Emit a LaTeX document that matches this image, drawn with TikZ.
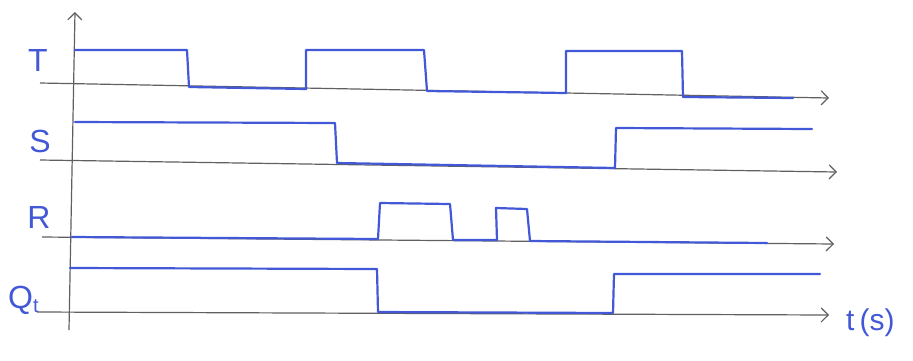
\documentclass[tikz,border=0pt]{standalone}
\usepackage{fontspec}
\setmainfont{Liberation Sans}
\usetikzlibrary{arrows.meta}
\definecolor{pen}{RGB}{66,88,214}
\definecolor{axisgray}{RGB}{95,95,100}
\tikzset{
  sig/.style={pen, line width=2.2pt, line join=round, line cap=round},
  ax/.style={axisgray, line width=1.2pt, -{Straight Barb[length=7pt,width=14pt]}},
  lab/.style={pen, font=\fontsize{32}{32}\selectfont, inner sep=0pt}
}
\begin{document}
\begin{tikzpicture}[x=1pt,y=-1pt]
\useasboundingbox (0,0) rectangle (913,360);
% vertical axis
\coordinate (vb) at (69,330);
\coordinate (vt) at (75,12);
\draw[ax] (vb) -- (vt);
% horizontal axes
\coordinate (Ta0) at (40,83);  \coordinate (Ta1) at (829,98);
\coordinate (Sa0) at (40,160); \coordinate (Sa1) at (837,172);
\coordinate (Ra0) at (42,237); \coordinate (Ra1) at (834,244);
\coordinate (Qa0) at (37,312); \coordinate (Qa1) at (829,315);
\draw[ax] (Ta0) -- (Ta1);
\draw[ax] (Sa0) -- (Sa1);
\draw[ax] (Ra0) -- (Ra1);
\draw[ax] (Qa0) -- (Qa1);
% signals
\draw[sig] (75,50) -- (187,50) -- (189,87) -- (306,89) -- (306,50) -- (424,50) -- (427,91) -- (566,93) -- (566,51) -- (682,51) -- (683,97) -- (793,98);
\draw[sig] (75,122) -- (335,123) -- (337,163) -- (615,168) -- (616,128) -- (812,129);
\draw[sig] (72,237) -- (378,239) -- (380,203) -- (450,204) -- (453,240) -- (497,240) -- (496,208) -- (527,209) -- (530,241) -- (767,243);
\draw[sig] (70,268) -- (377,269) -- (378,312) -- (613,313) -- (614,274) -- (820,274);
% labels
\node[lab] (lT) at (38,60) {T};
\node[lab] (lS) at (40,141) {S};
\node[lab] (lR) at (39,217) {R};
\node[lab, anchor=base west] (lQ) at (8,308) {Q\raisebox{-4pt}{\fontsize{20}{20}\selectfont t}};
\node[lab, font=\fontsize{30}{30}\selectfont, anchor=base west] (lt) at (846,330) {t\,(s)};
\end{tikzpicture}
\end{document}
